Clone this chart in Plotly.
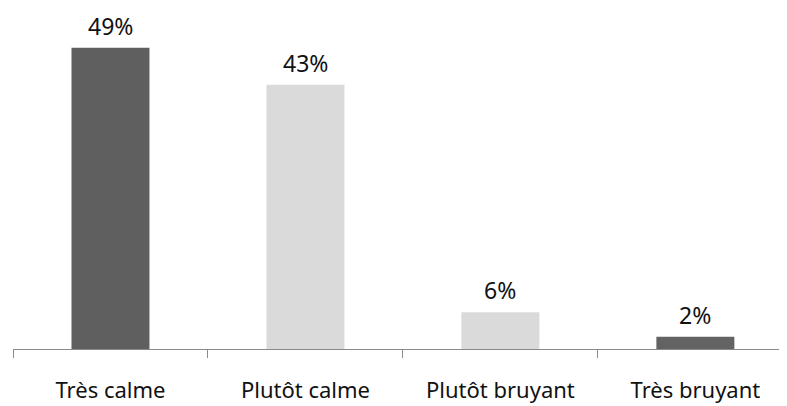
import plotly.graph_objects as go

categories = ["Très calme", "Plutôt calme", "Plutôt bruyant", "Très bruyant"]
values = [49, 43, 6, 2]
labels = ["49%", "43%", "6%", "2%"]
colors = ["#5f5f5f", "#dadada", "#dadada", "#636363"]

FONT = "Noto Sans, Open Sans, sans-serif"

fig = go.Figure()
fig.add_trace(go.Bar(
    x=categories, y=values, width=0.4,
    marker=dict(color=colors, line=dict(width=0)),
    hoverinfo="skip",
))
for c, v, t in zip(categories, values, labels):
    fig.add_annotation(x=c, y=v, text=t, showarrow=False, yanchor="bottom",
                       yshift=5, borderpad=0,
                       font=dict(family=FONT, size=23, color="#111"))

# page body has an 8px default margin, so the figure is sized to fit the window
fig.update_layout(
    width=779, height=398,
    margin=dict(l=5, r=0, t=3, b=57, autoexpand=False),
    paper_bgcolor="white", plot_bgcolor="white",
    showlegend=False,
    font=dict(family=FONT, size=22, color="#111"),
    xaxis=dict(
        range=[-0.5, 3.47], showline=True, linecolor="#8a8a8a", linewidth=1,
        ticks="outside", tickson="boundaries", ticklen=8, tickcolor="#8a8a8a",
        showgrid=False, tickfont=dict(size=22), ticklabelstandoff=22,
    ),
    yaxis=dict(range=[0, 55], visible=False, showgrid=False, zeroline=False),
)
fig.write_html("out.html")
